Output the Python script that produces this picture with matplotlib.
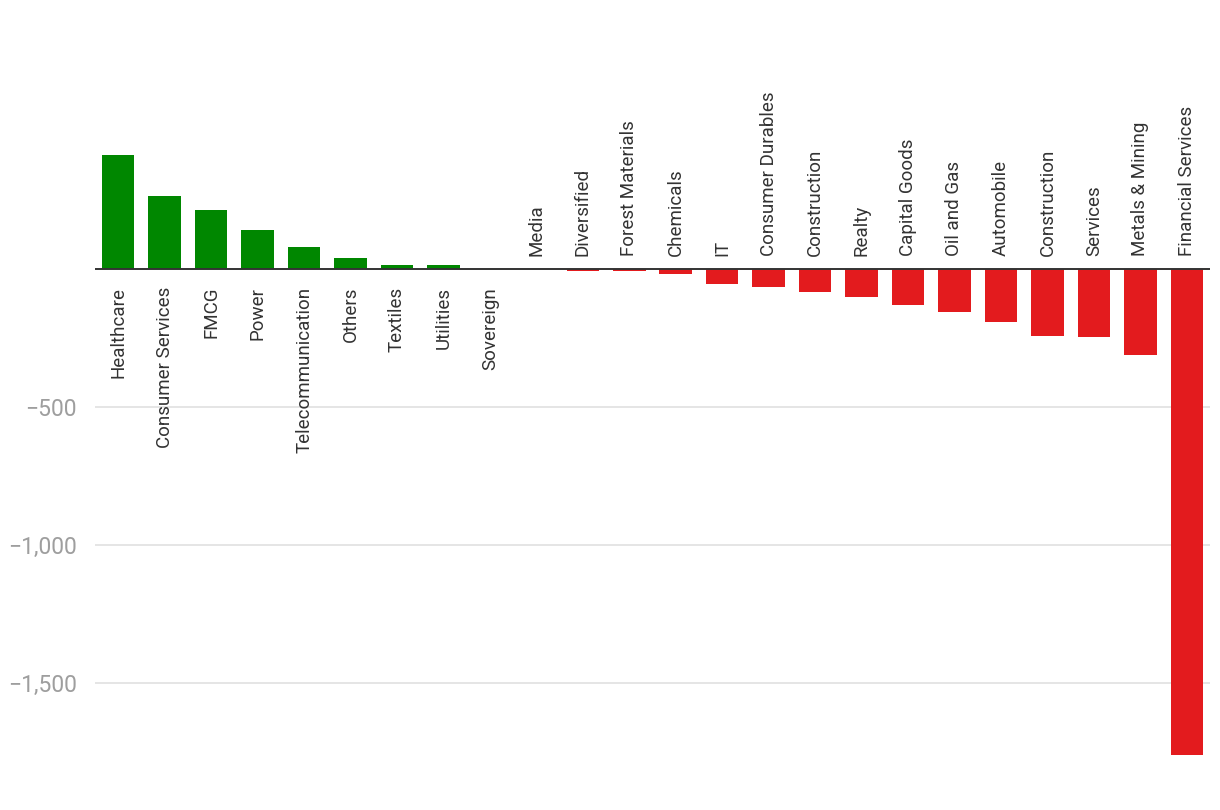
import matplotlib
matplotlib.use("Agg")
import matplotlib.pyplot as plt
from matplotlib.ticker import FuncFormatter

plt.rcParams['font.family'] = ['Roboto', 'DejaVu Sans']

categories = ["Healthcare", "Consumer Services", "FMCG", "Power", "Telecommunication",
              "Others", "Textiles", "Utilities", "Sovereign", "Media", "Diversified",
              "Forest Materials", "Chemicals", "IT", "Consumer Durables", "Construction",
              "Realty", "Capital Goods", "Oil and Gas", "Automobile", "Construction",
              "Services", "Metals & Mining", "Financial Services"]
values = [412, 263, 213, 140, 79, 39, 13, 13, 0.5, -0.5, -8, -8, -21, -57, -68, -83,
          -104, -130, -156, -192, -243, -247, -314, -1762]
y_ticks = [-500, -1000, -1500]

W, H = 1220, 810
fig = plt.figure(figsize=(W / 100, H / 100), dpi=100)
ymin, ymax = -1800, 600
px_per_unit = 138.0 / 500
zero_px = 268.7
top_px = zero_px - ymax * px_per_unit
bot_px = zero_px - ymin * px_per_unit
left_px, right_px = 95, 1210
ax = fig.add_axes([left_px / W, 1 - bot_px / H, (right_px - left_px) / W, (bot_px - top_px) / H])

green = "#008700"
red = "#e31b1e"
colors = [green if v >= 0 else red for v in values]
x = list(range(len(categories)))
ax.bar(x, values, width=0.70, color=colors, zorder=2)

ax.set_xlim(-0.5, len(categories) - 0.5)
ax.set_ylim(ymin, ymax)

for t in y_ticks:
    ax.axhline(t, color="#e3e3e3", lw=1.3, zorder=0)
ax.axhline(0, color="#333333", lw=1.4, zorder=3)

ax.set_yticks(y_ticks)
ax.yaxis.set_major_formatter(FuncFormatter(lambda v, p: ("\u2212" if v < 0 else "") + f"{abs(int(v)):,}"))
ax.tick_params(axis="y", length=0, pad=13, labelsize=16.5, labelcolor="#9e9e9e")
ax.set_xticks([])
for s in ax.spines.values():
    s.set_visible(False)

for i, (c, v) in enumerate(zip(categories, values)):
    if v >= 0:
        ax.annotate(c, xy=(i, 0), xytext=(0, -13), textcoords="offset points",
                    rotation=90, ha="center", va="top", fontsize=13.5, color="#333333",
                    annotation_clip=False)
    else:
        ax.annotate(c, xy=(i, 0), xytext=(0, 9), textcoords="offset points",
                    rotation=90, ha="center", va="bottom", fontsize=13.5, color="#333333",
                    annotation_clip=False)

fig.savefig("out.png", dpi=100, facecolor="white")
